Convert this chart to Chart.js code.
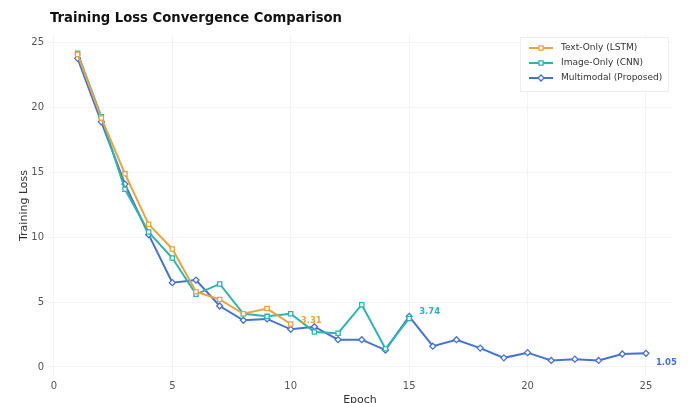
<!DOCTYPE html>
<html>
<head>
<meta charset="utf-8">
<script src="https://cdn.jsdelivr.net/npm/chart.js@4.4.1/dist/chart.umd.min.js"></script>
<style>
  html, body { margin: 0; padding: 0; background: #fff; }
  #wrap { width: 688px; height: 403px; }
</style>
</head>
<body>
<div id="wrap"><canvas id="lossChart"></canvas></div>
<script>
// data
const textEpochs = [1, 2, 3, 4, 5, 6, 7, 8, 9, 10];
const textLoss = [24.1, 19.2, 14.9, 11.0, 9.1, 5.8, 5.2, 4.1, 4.5, 3.31];

const imageEpochs = [1, 2, 3, 4, 5, 6, 7, 8, 9, 10, 11, 12, 13, 14, 15];
const imageLoss = [24.2, 19.3, 13.7, 10.4, 8.4, 5.6, 6.4, 4.1, 3.9, 4.1, 2.7, 2.6, 4.8, 1.4, 3.74];

const multiEpochs = [1, 2, 3, 4, 5, 6, 7, 8, 9, 10, 11, 12, 13, 14, 15, 16, 17, 18, 19, 20, 21, 22, 23, 24, 25];
const multiLoss = [23.8, 18.9, 14.1, 10.2, 6.5, 6.7, 4.7, 3.6, 3.7, 2.9, 3.1, 2.1, 2.1, 1.3, 3.9, 1.6, 2.1, 1.45, 0.7, 1.1, 0.5, 0.6, 0.5, 1.0, 1.05];

const xTicks = [0, 5, 10, 15, 20, 25];
const yTicks = [0, 5, 10, 15, 20, 25];

const seriesNames = ['Text-Only (LSTM)', 'Image-Only (CNN)', 'Multimodal (Proposed)'];
const seriesColors = ['#eaa43c', '#2db3b3', '#4472d4'];
const chartTitle = 'Training Loss Convergence Comparison';

const FONT = '"DejaVu Sans", sans-serif';

function points(xs, ys) {
  return xs.map((x, i) => ({ x: x, y: ys[i] }));
}

function makeSet(i, xs, ys, marker) {
  return {
    label: seriesNames[i],
    data: points(xs, ys),
    borderColor: seriesColors[i],
    backgroundColor: '#ffffff',
    borderWidth: 2,
    pointStyle: marker,
    pointRadius: 3,
    pointBorderWidth: 1.3,
    pointBorderColor: seriesColors[i],
    pointBackgroundColor: '#ffffff',
    tension: 0
  };
}

// final value labels: which dataset, which point, offset
const endLabels = [
  { ds: 0, idx: textLoss.length - 1, text: '3.31', dx: 10, dy: -3 },
  { ds: 1, idx: imageLoss.length - 1, text: '3.74', dx: 10, dy: -7 },
  { ds: 2, idx: multiLoss.length - 1, text: '1.05', dx: 10, dy: 9 }
];

const endLabelPlugin = {
  id: 'endLabels',
  afterDatasetsDraw(chart) {
    const c = chart.ctx;
    c.save();
    c.font = 'bold 8.5px ' + FONT;
    c.textAlign = 'left';
    c.textBaseline = 'middle';
    endLabels.forEach(l => {
      const pt = chart.getDatasetMeta(l.ds).data[l.idx];
      c.fillStyle = seriesColors[l.ds];
      c.fillText(l.text, pt.x + l.dx, pt.y + l.dy);
    });
    c.restore();
  }
};

// title sits over the plot's left edge, not the canvas edge
const titlePlugin = {
  id: 'leftTitle',
  afterDraw(chart) {
    const c = chart.ctx;
    c.save();
    c.font = 'bold 13.2px ' + FONT;
    c.fillStyle = '#111111';
    c.textAlign = 'left';
    c.textBaseline = 'middle';
    c.fillText(chartTitle, 50, 19);
    c.restore();
  }
};

const legendPlugin = {
  id: 'lineLegend',
  afterDraw(chart) {
    const c = chart.ctx;
    const area = chart.chartArea;
    const boxW = 148, boxH = 54;
    const bx = area.right - boxW - 4, by = area.top + 2;
    c.save();
    c.fillStyle = 'rgba(255,255,255,0.9)';
    c.strokeStyle = '#eeeeee';
    c.lineWidth = 1;
    c.fillRect(bx, by, boxW, boxH);
    c.strokeRect(bx + 0.5, by + 0.5, boxW, boxH);
    c.font = '9px ' + FONT;
    c.textBaseline = 'middle';
    const markers = ['rect', 'rect', 'rectRot'];
    seriesNames.forEach((name, i) => {
      const y = by + 11 + i * 15;
      const x0 = bx + 9;
      c.strokeStyle = seriesColors[i];
      c.lineWidth = 2;
      c.beginPath();
      c.moveTo(x0, y);
      c.lineTo(x0 + 24, y);
      c.stroke();
      c.lineWidth = 1.3;
      c.fillStyle = '#ffffff';
      Chart.helpers.drawPoint(c, { pointStyle: markers[i], radius: 3, borderWidth: 1.3 }, x0 + 12, y);
      c.fillStyle = '#333333';
      c.fillText(name, x0 + 32, y);
    });
    c.restore();
  }
};

const ctx = document.getElementById('lossChart');

new Chart(ctx, {
  type: 'line',
  data: {
    datasets: [
      makeSet(0, textEpochs, textLoss, 'rect'),
      makeSet(1, imageEpochs, imageLoss, 'rect'),
      makeSet(2, multiEpochs, multiLoss, 'rectRot')
    ]
  },
  options: {
    responsive: true,
    maintainAspectRatio: false,
    animation: false,
    layout: { padding: { left: 0, right: 16, top: 35, bottom: 0 } },
    plugins: {
      legend: { display: false },
      tooltip: { enabled: false },
      title: { display: false }
    },
    scales: {
      x: {
        type: 'linear',
        min: -0.25,
        max: 26.1,
        afterBuildTicks: axis => { axis.ticks = xTicks.map(v => ({ value: v })); },
        afterFit: axis => { axis.height = 27; },
        grid: { color: '#f3f3f3', drawTicks: false },
        border: { display: false },
        ticks: { color: '#555555', font: { family: FONT, size: 10 }, padding: 4, maxRotation: 0 },
        title: { display: true, text: 'Epoch', color: '#333333', font: { family: FONT, size: 11 }, padding: { top: 0, bottom: -4 } }
      },
      y: {
        min: -0.7,
        max: 25.6,
        afterBuildTicks: axis => { axis.ticks = yTicks.map(v => ({ value: v })); },
        afterFit: axis => { axis.width = 48; },
        grid: { color: '#f3f3f3', drawTicks: false },
        border: { display: false },
        ticks: { color: '#555555', font: { family: FONT, size: 10 }, padding: 4 },
        title: { display: true, text: 'Training Loss', color: '#333333', font: { family: FONT, size: 11 }, padding: { top: 18, bottom: 0 } }
      }
    }
  },
  plugins: [endLabelPlugin, titlePlugin, legendPlugin]
});
</script>
</body>
</html>
